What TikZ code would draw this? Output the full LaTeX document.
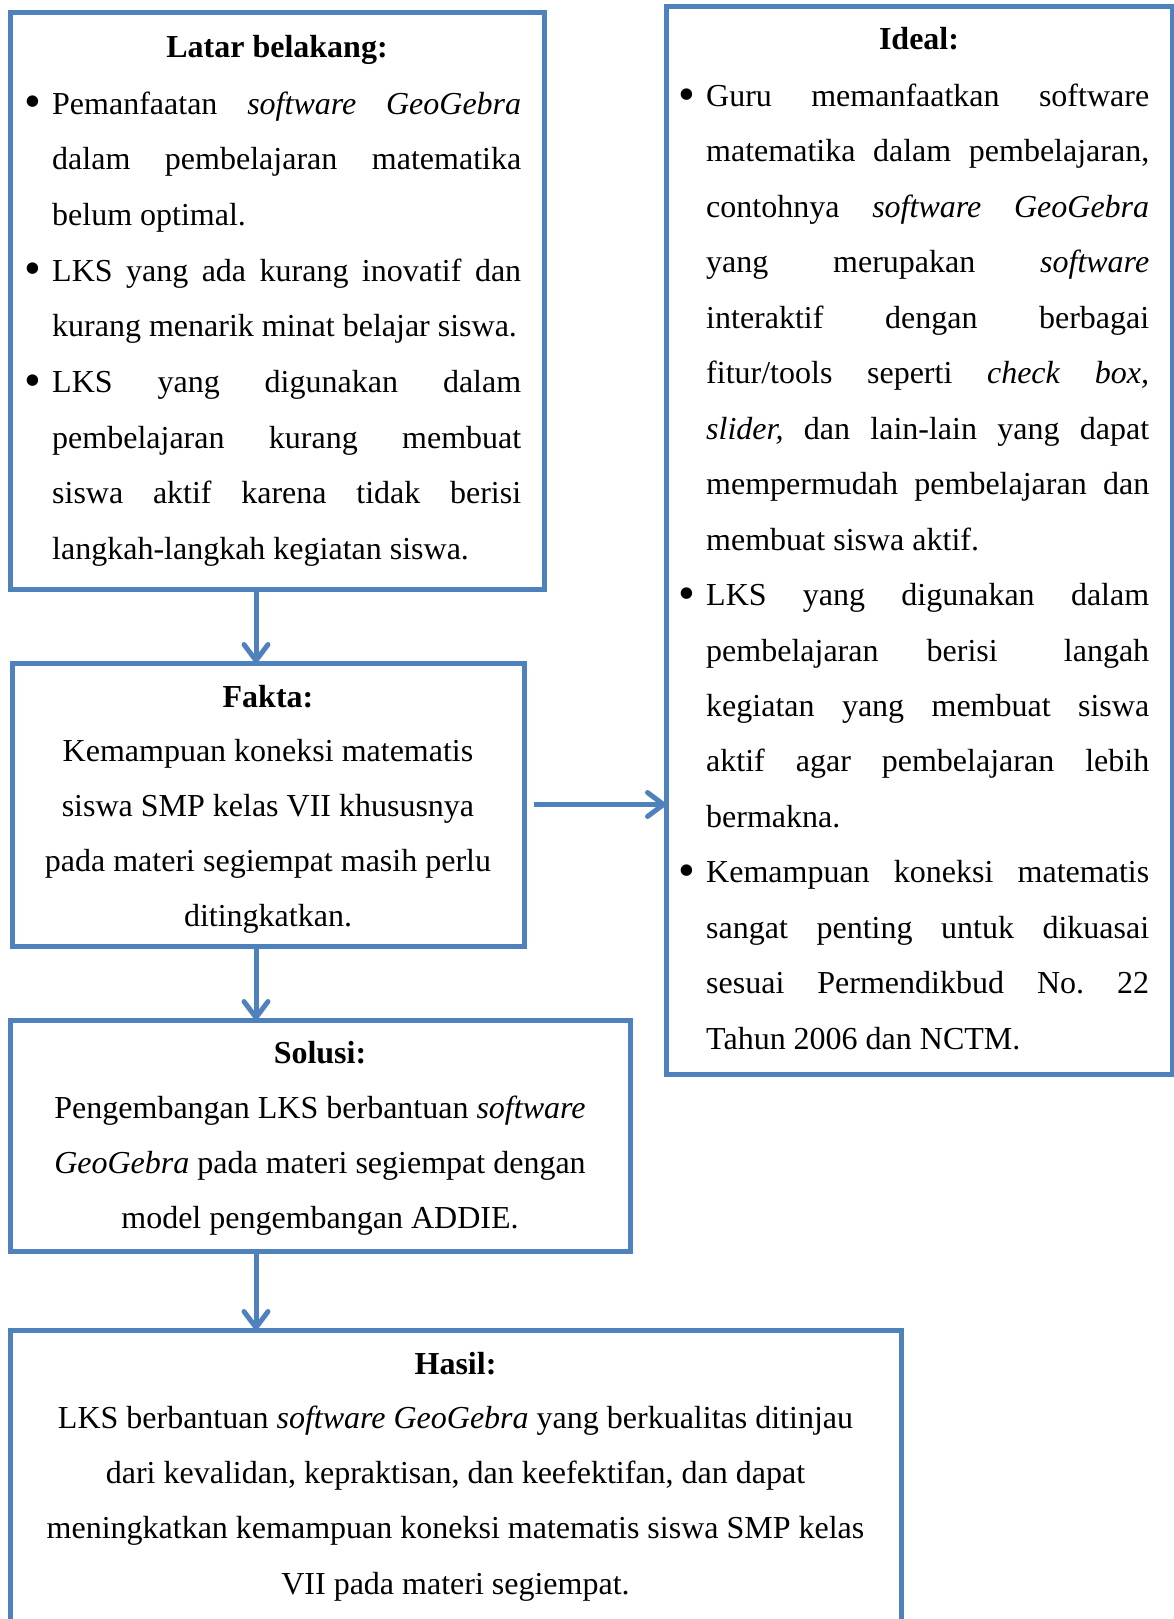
\documentclass[tikz,border=0pt]{standalone}
\usepackage{fontspec}
\usepackage{graphicx}
\setmainfont{Liberation Serif}
\usetikzlibrary{arrows.meta}
\definecolor{boxblue}{HTML}{4F81BD}
\frenchspacing
\newlength\myPBW
\newlength\myIND
\setlength\myIND{28pt}
\newcommand\myBul{\makebox[\myIND][l]{\raisebox{-3.5pt}{\scalebox{1.5}{\textbullet}}}}
\newcommand\JL[1]{\noindent\hspace*{\myIND}\makebox[\dimexpr\myPBW-\myIND\relax][s]{#1}\par}
\newcommand\LL[1]{\noindent\hspace*{\myIND}#1\par}
\newcommand\BJ[1]{\noindent\myBul\makebox[\dimexpr\myPBW-\myIND\relax][s]{#1}\par}
\newcommand\BL[1]{\noindent\myBul#1\par}
\begin{document}
\begin{tikzpicture}[x=1pt,y=-1pt,
  frame/.style={draw=boxblue, line width=5pt, inner sep=0pt, outer sep=0pt, rectangle},
  ttl/.style={anchor=base, inner sep=0pt, font=\fontsize{32}{55.6}\selectfont\bfseries},
  body/.style={inner sep=0pt, font=\fontsize{32}{55.6}\selectfont},
  arr/.style={draw=boxblue, line width=5pt, -{Straight Barb[length=16pt,width=24pt,line cap=round,line join=round]}}]
\useasboundingbox (0,0) rectangle (1174,1619);
\clip (0,0) rectangle (1174,1619);

% frames
\node[frame, minimum width=534pt, minimum height=576pt] (latar) at (277,301) {};
\node[frame, minimum width=506pt, minimum height=1067pt] (ideal) at (919,540.5) {};
\node[frame, minimum width=512pt, minimum height=283pt] (fakta) at (268,804.5) {};
\node[frame, minimum width=620pt, minimum height=231pt] (solusi) at (320,1135.5) {};
\node[frame, minimum width=891pt, minimum height=370pt] (hasil) at (455.5,1515) {};

% Latar belakang
\node[ttl] (latarT) at (277,57) {Latar belakang:};
\node[body, anchor=base west] (latarB) at (24,114) {\setlength\myPBW{497pt}\parbox[t]{\myPBW}{\baselineskip=55.7pt
\BJ{Pemanfaatan \textit{software} \textit{GeoGebra}}
\JL{dalam pembelajaran matematika}
\LL{belum optimal.}
\BJ{LKS yang ada kurang inovatif dan}
\LL{kurang menarik minat belajar siswa.}
\BJ{LKS yang digunakan dalam}
\JL{pembelajaran kurang membuat}
\JL{siswa aktif karena tidak berisi}
\LL{langkah-langkah kegiatan siswa.}}};

% Ideal
\node[ttl] (idealT) at (919,50) {Ideal:};
\node[body, anchor=base west] (idealB) at (678,106.5) {\setlength\myPBW{471pt}\parbox[t]{\myPBW}{\baselineskip=55.45pt
\BJ{Guru memanfaatkan software}
\JL{matematika dalam pembelajaran,}
\JL{contohnya \textit{software} \textit{GeoGebra}}
\JL{yang merupakan \textit{software}}
\JL{interaktif dengan berbagai}
\JL{fitur/tools seperti \textit{check} \textit{box,}}
\JL{\textit{slider,} dan lain-lain yang dapat}
\JL{mempermudah pembelajaran dan}
\LL{membuat siswa aktif.}
\BJ{LKS yang digunakan dalam}
\JL{pembelajaran berisi\hspace{18pt} langah}
\JL{kegiatan yang membuat siswa}
\JL{aktif agar pembelajaran lebih}
\LL{bermakna.}
\BJ{Kemampuan koneksi matematis}
\JL{sangat penting untuk dikuasai}
\JL{sesuai Permendikbud No. 22}
\LL{Tahun 2006 dan NCTM.}}};

% Fakta
\node[ttl] (faktaT) at (268,707) {Fakta:};
\node[body, anchor=base] (faktaB) at (268,761.5) {\parbox[t]{490pt}{\centering\baselineskip=55pt
Kemampuan koneksi matematis\\
siswa SMP kelas VII khususnya\\
pada materi segiempat masih perlu\\
ditingkatkan.}};

% Solusi
\node[ttl] (solusiT) at (320,1063) {Solusi:};
\node[body, anchor=base] (solusiB) at (320,1118) {\parbox[t]{600pt}{\centering\baselineskip=55.2pt
Pengembangan LKS berbantuan \textit{software}\\
\textit{GeoGebra} pada materi segiempat dengan\\
model pengembangan ADDIE.}};

% Hasil
\node[ttl] (hasilT) at (455.5,1374) {Hasil:};
\node[body, anchor=base] (hasilB) at (455.5,1428.5) {\parbox[t]{870pt}{\centering\baselineskip=55.2pt
LKS berbantuan \textit{software GeoGebra} yang berkualitas ditinjau\\
dari kevalidan, kepraktisan, dan keefektifan, dan dapat\\
meningkatkan kemampuan koneksi matematis siswa SMP kelas\\
VII pada materi segiempat.}};

% connectors
\coordinate (ax) at (256,0);
\draw[arr] (ax |- latar.south) -- (ax |- fakta.north);
\draw[arr] (ax |- fakta.south) -- (ax |- solusi.north);
\draw[arr] (ax |- solusi.south) -- (ax |- hasil.north);
\draw[arr] ([xshift=10pt]fakta.east) -- (ideal.west |- fakta.east);
\end{tikzpicture}
\end{document}
